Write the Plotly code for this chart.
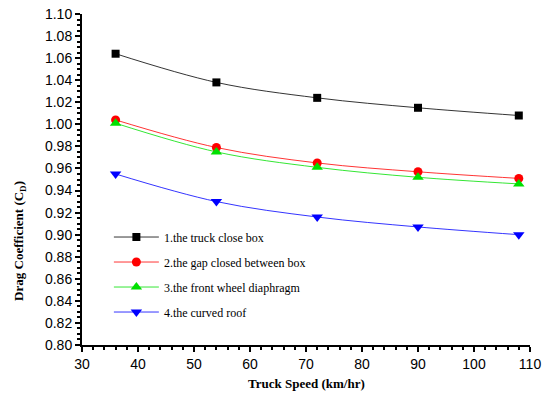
import plotly.graph_objects as go

speed = [36, 54, 72, 90, 108]
s1 = [1.064, 1.038, 1.024, 1.015, 1.008]
s2 = [1.004, 0.979, 0.965, 0.957, 0.951]
s3 = [1.001, 0.975, 0.961, 0.952, 0.946]
s4 = [0.955, 0.930, 0.916, 0.907, 0.900]
names = ["1.the truck close box", "2.the gap closed between box",
         "3.the front wheel diaphragm", "4.the curved roof"]
colors = ["#000000", "#ff0000", "#00e000", "#0000ff"]
symbols = ["square", "circle", "triangle-up", "triangle-down"]
sizes = [8, 9, 10, 10]

fig = go.Figure()
for i, ys in enumerate([s1, s2, s3, s4]):
    fig.add_trace(go.Scatter(
        x=speed, y=ys, name=names[i], mode="lines+markers",
        line=dict(color=colors[i], width=0.8, shape="spline"),
        marker=dict(symbol=symbols[i], size=sizes[i], color=colors[i]),
        legendgroup=str(i)))

axis_common = dict(showline=True, linecolor="black", linewidth=2, ticks="outside",
                   ticklen=5, tickwidth=2, tickcolor="black", showgrid=False,
                   zeroline=False, mirror=False, automargin=False,
                   tickfont=dict(family="Liberation Sans, Arial", size=14, color="black"),
                   minor=dict(ticks="outside", ticklen=3, tickwidth=1.5, tickcolor="black"))

fig.update_xaxes(range=[30, 110], dtick=10, **axis_common)
fig.update_yaxes(range=[0.80, 1.10], dtick=0.02, tickformat=".2f", **axis_common)

title_font = dict(family="Liberation Serif, Times New Roman", size=13, color="black")
fig.add_annotation(text="<b>Truck Speed (km/hr)</b>", xref="paper", yref="paper",
                   x=0.5, y=-0.115, xanchor="center", yanchor="middle",
                   showarrow=False, font=title_font)
fig.add_annotation(text="<b>Drag Coefficient (C<sub>D</sub>)</b>", xref="paper", yref="paper",
                   x=-0.138, y=0.315, xanchor="center", yanchor="middle", textangle=-90,
                   showarrow=False, font=dict(family="Liberation Serif, Times New Roman", size=13, color="black"))

fig.update_layout(
    width=542, height=404,
    margin=dict(l=82, r=12, t=14, b=59),
    plot_bgcolor="white", paper_bgcolor="white",
    legend=dict(x=0.06, y=0.37, xanchor="left", yanchor="top",
                bgcolor="rgba(0,0,0,0)", tracegroupgap=6, itemwidth=45,
                font=dict(family="Liberation Serif, Times New Roman", size=12, color="black")),
)

fig.write_html("out.html")
